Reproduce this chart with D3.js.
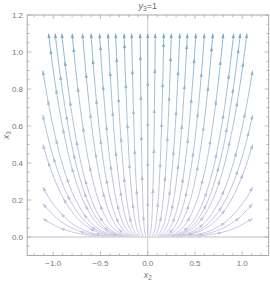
<!DOCTYPE html>
<html>
<head>
<meta charset="utf-8">
<script src="https://cdn.jsdelivr.net/npm/d3@7"></script>
<style>
  body { margin: 0; background: #fff; }
  svg { display: block; font-family: 'Liberation Sans', Arial, sans-serif; }
</style>
</head>
<body>
<div id="chart"></div>
<script>
// Stream plot data
var levels = [1.1, 0.9, 0.7, 0.5, 0.35, 0.2, 0.1, 0.05, 0.02, 0.005];

// x2 of each top-starting streamline at the x3 levels above (right half, mirrored for left)
var topLines = [
  [0.0, 0.0, 0.0, 0.0, 0.0, 0.0, 0.0, 0.0, 0.0, 0.0],
  [0.08, 0.076, 0.071, 0.066, 0.060, 0.052, 0.044, 0.037, 0.029, 0.021],
  [0.17, 0.162, 0.152, 0.140, 0.128, 0.111, 0.093, 0.079, 0.062, 0.044],
  [0.25, 0.238, 0.223, 0.205, 0.188, 0.163, 0.137, 0.116, 0.092, 0.065],
  [0.34, 0.323, 0.304, 0.279, 0.255, 0.222, 0.187, 0.157, 0.125, 0.088],
  [0.42, 0.399, 0.375, 0.345, 0.315, 0.274, 0.231, 0.194, 0.154, 0.109],
  [0.51, 0.485, 0.455, 0.419, 0.383, 0.333, 0.280, 0.236, 0.187, 0.133],
  [0.60, 0.571, 0.536, 0.493, 0.451, 0.392, 0.329, 0.277, 0.220, 0.156],
  [0.69, 0.656, 0.616, 0.566, 0.518, 0.451, 0.379, 0.319, 0.253, 0.179],
  [0.80, 0.761, 0.714, 0.657, 0.601, 0.522, 0.439, 0.370, 0.294, 0.208],
  [0.91, 0.865, 0.813, 0.747, 0.683, 0.594, 0.500, 0.420, 0.334, 0.237],
  [0.98, 0.932, 0.875, 0.805, 0.736, 0.640, 0.538, 0.453, 0.360, 0.255],
  [1.05, 0.999, 0.938, 0.862, 0.789, 0.686, 0.576, 0.485, 0.385, 0.273]
];

// streamlines entering from the side (right half, mirrored for left), [x2, x3]
var sideLines = [
  [[1.11, 0.90], [1.042, 0.7], [0.958, 0.5], [0.877, 0.35], [0.762, 0.2], [0.641, 0.1], [0.539, 0.05], [0.428, 0.02], [0.303, 0.005]],
  [[1.11, 0.66], [1.036, 0.5], [0.947, 0.35], [0.824, 0.2], [0.692, 0.1], [0.582, 0.05], [0.463, 0.02], [0.328, 0.005]],
  [[1.11, 0.50], [1.015, 0.35], [0.883, 0.2], [0.742, 0.1], [0.624, 0.05], [0.496, 0.02], [0.351, 0.005]],
  [[1.11, 0.27], [1.030, 0.2], [0.866, 0.1], [0.728, 0.05], [0.579, 0.02], [0.409, 0.005]],
  [[1.11, 0.18], [0.958, 0.1], [0.806, 0.05], [0.641, 0.02], [0.451, 0.005]],
  [[1.11, 0.10], [0.933, 0.05], [0.742, 0.02], [0.525, 0.005]]
];

var xMajor = [-1.0, -0.5, 0.0, 0.5, 1.0];
var yMajor = [0.0, 0.2, 0.4, 0.6, 0.8, 1.0, 1.2];

var W = 270, H = 283;
var x = d3.scaleLinear().domain([-1.275, 1.28]).range([27.2, 268.7]);
var y = d3.scaleLinear().domain([-0.1, 1.2]).range([255.5, 15]);

var svg = d3.select('#chart').append('svg').attr('width', W).attr('height', H);

// colour by height
var color = d3.scaleLinear()
  .domain([0, 0.3, 0.7, 1.1])
  .range(['#c6c3e2', '#b7b9dc', '#9fbcd3', '#74abc9']);

var defs = svg.append('defs');
var grad = defs.append('linearGradient')
  .attr('id', 'streamGrad')
  .attr('gradientUnits', 'userSpaceOnUse')
  .attr('x1', 0).attr('x2', 0)
  .attr('y1', y(0)).attr('y2', y(1.1));
[0, 0.3, 0.7, 1.1].forEach(function (v) {
  grad.append('stop').attr('offset', v / 1.1).attr('stop-color', color(v));
});

defs.append('clipPath').attr('id', 'plotClip')
  .append('rect')
  .attr('x', x.range()[0]).attr('y', y.range()[1])
  .attr('width', x.range()[1] - x.range()[0])
  .attr('height', y.range()[0] - y.range()[1]);

// axes lines through origin
svg.append('line')
  .attr('x1', x.range()[0]).attr('x2', x.range()[1])
  .attr('y1', y(0)).attr('y2', y(0))
  .attr('stroke', '#d6d6d6').attr('stroke-width', 1.3);
svg.append('line')
  .attr('x1', x(0)).attr('x2', x(0))
  .attr('y1', y.range()[0]).attr('y2', y.range()[1])
  .attr('stroke', '#d6d6d6').attr('stroke-width', 1.3);

// build all streamlines as point lists (outer end first)
var streams = [];
topLines.forEach(function (row, i) {
  var pts = row.map(function (v, j) { return [v, levels[j]]; });
  streams.push(pts);
  if (i > 0) streams.push(pts.map(function (p) { return [-p[0], p[1]]; }));
});
sideLines.forEach(function (pts) {
  streams.push(pts);
  streams.push(pts.map(function (p) { return [-p[0], p[1]]; }));
});

var line = d3.line()
  .x(function (d) { return x(d[0]); })
  .y(function (d) { return y(d[1]); })
  .curve(d3.curveCatmullRom.alpha(0.5));

var g = svg.append('g').attr('clip-path', 'url(#plotClip)');

var paths = g.selectAll('path.stream')
  .data(streams)
  .enter()
  .append('path')
  .attr('class', 'stream')
  .attr('fill', 'none')
  .attr('stroke', 'url(#streamGrad)')
  .attr('stroke-width', 0.9)
  .attr('d', line);

// arrowheads along each streamline, pointing outward
var step = 40;
paths.each(function (d, i) {
  var node = this;
  var len = node.getTotalLength();
  var phase = (i * 13) % step;
  var spots = [0];
  for (var s = step - phase + 8; s < len - 10; s += step) spots.push(s);
  spots.forEach(function (s) {
    var p = node.getPointAtLength(s);
    var q = node.getPointAtLength(Math.min(len, s + 1.5));
    var ang = Math.atan2(p.y - q.y, p.x - q.x) * 180 / Math.PI;
    var v = y.invert(p.y);
    g.append('path')
      .attr('d', 'M0,0 L-4.6,-1.6 L-4.6,1.6 Z')
      .attr('transform', 'translate(' + p.x + ',' + p.y + ') rotate(' + ang + ')')
      .attr('fill', color(Math.max(0, v)));
  });
});

// frame
svg.append('rect')
  .attr('x', x.range()[0]).attr('y', y.range()[1])
  .attr('width', x.range()[1] - x.range()[0])
  .attr('height', y.range()[0] - y.range()[1])
  .attr('fill', 'none')
  .attr('stroke', '#a8a8a8')
  .attr('stroke-width', 1);

// ticks (inward, all four sides)
var ticks = svg.append('g').attr('stroke', '#a8a8a8').attr('stroke-width', 0.8);
d3.range(-12, 13).forEach(function (k) {
  var v = k / 10;
  var major = k % 5 === 0;
  var t = major ? 4 : 2.2;
  var px = x(v);
  ticks.append('line').attr('x1', px).attr('x2', px)
    .attr('y1', y.range()[0]).attr('y2', y.range()[0] - t);
  ticks.append('line').attr('x1', px).attr('x2', px)
    .attr('y1', y.range()[1]).attr('y2', y.range()[1] + t);
});
d3.range(-2, 25).forEach(function (k) {
  var v = k / 20;
  var major = k % 4 === 0;
  var t = major ? 4 : 2.2;
  var py = y(v);
  ticks.append('line').attr('y1', py).attr('y2', py)
    .attr('x1', x.range()[0]).attr('x2', x.range()[0] + t);
  ticks.append('line').attr('y1', py).attr('y2', py)
    .attr('x1', x.range()[1]).attr('x2', x.range()[1] - t);
});

// tick labels
svg.append('g').selectAll('text')
  .data(xMajor).enter().append('text')
  .attr('x', function (d) { return x(d); })
  .attr('y', 266)
  .attr('text-anchor', 'middle')
  .attr('font-size', 8)
  .attr('fill', '#777')
  .text(function (d) { return d3.format('.1f')(d).replace('-', '\u2212'); });

svg.append('g').selectAll('text')
  .data(yMajor).enter().append('text')
  .attr('x', 23)
  .attr('y', function (d) { return y(d) + 3; })
  .attr('text-anchor', 'end')
  .attr('font-size', 8)
  .attr('fill', '#777')
  .text(function (d) { return d3.format('.1f')(d); });

// title and axis labels
var title = svg.append('text')
  .attr('x', x(0)).attr('y', 9)
  .attr('text-anchor', 'middle')
  .attr('font-size', 9)
  .attr('fill', '#666');
title.append('tspan').attr('font-style', 'italic').text('y');
title.append('tspan').attr('font-size', 6.5).attr('dy', 1.5).text('3');
title.append('tspan').attr('dy', -1.5).text('=1');

var xl = svg.append('text')
  .attr('x', x(0)).attr('y', 278)
  .attr('text-anchor', 'middle')
  .attr('font-size', 9)
  .attr('fill', '#777');
xl.append('tspan').attr('font-style', 'italic').text('x');
xl.append('tspan').attr('font-size', 6.5).attr('dy', 1.5).text('2');

var yl = svg.append('text')
  .attr('transform', 'translate(9,' + y(0.55) + ') rotate(-90)')
  .attr('text-anchor', 'middle')
  .attr('font-size', 9)
  .attr('fill', '#777');
yl.append('tspan').attr('font-style', 'italic').text('x');
yl.append('tspan').attr('font-size', 6.5).attr('dy', 1.5).text('3');
</script>
</body>
</html>
